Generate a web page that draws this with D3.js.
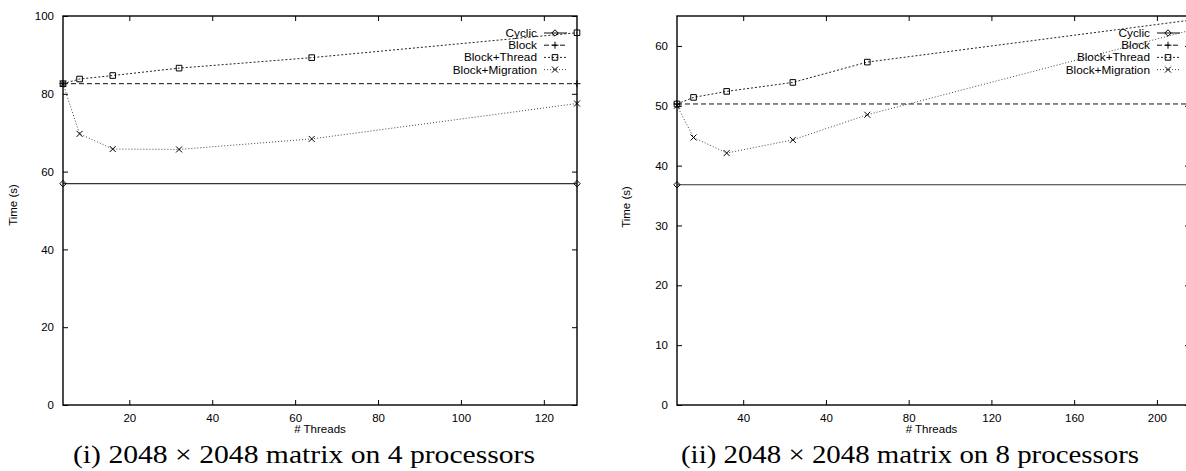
<!DOCTYPE html>
<html>
<head>
<meta charset="utf-8">
<script src="https://cdn.jsdelivr.net/npm/d3@7"></script>
<style>
  html, body { margin: 0; padding: 0; background: #fff; }
  svg { display: block; }
  text { font-family: "Liberation Sans", Arial, Helvetica, sans-serif; fill: #000; }
</style>
</head>
<body>
<svg id="chart" width="1186" height="471"></svg>
<script>
// ---------- DATA ----------
const seriesNames = ["Cyclic", "Block", "Block+Thread", "Block+Migration"];

// Panel (i): 4 processors
const leftThreads = [4, 8, 16, 32, 64, 128];
const leftFlatX = [4, 128];
const leftCyclic = [56.9, 56.9];
const leftBlock = [82.6, 82.6];
const leftBlockThread = [82.6, 83.8, 84.7, 86.6, 89.3, 95.7];
const leftBlockMigration = [82.6, 69.7, 65.8, 65.7, 68.4, 77.5];
const leftYTicks = [0, 20, 40, 60, 80, 100];
const leftXTicks = [20, 40, 60, 80, 100, 120];
const leftXTickLabels = ["20", "40", "60", "80", "100", "120"];
const leftCaption = "(i) 2048 \u00d7 2048 matrix on 4 processors";

// Panel (ii): 8 processors
const rightThreads = [8, 16, 32, 64, 100, 256];
const rightFlatX = [8, 256];
const rightCyclic = [36.8, 36.8];
const rightBlock = [50.3, 50.3];
const rightBlockThread = [50.3, 51.4, 52.4, 53.9, 57.3, 64.3];
const rightBlockMigration = [50.0, 44.7, 42.1, 44.3, 48.5, 62.6];
const rightYTicks = [0, 10, 20, 30, 40, 50, 60];
const rightXTicks = [40, 80, 120, 160, 200, 240];
const rightXTickLabels = ["40", "40", "80", "120", "160", "200"];
const rightCaption = "(ii) 2048 \u00d7 2048 matrix on 8 processors";

const xLabel = "# Threads";
const yLabel = "Time (s)";

// ---------- STYLES ----------
const styles = {
  "Cyclic":          { stroke: "#333", width: 1.2, dash: null,  marker: "diamond" },
  "Block":           { stroke: "#111", width: 1,   dash: "5,3", marker: "plus" },
  "Block+Thread":    { stroke: "#222", width: 1,   dash: "2,2", marker: "square" },
  "Block+Migration": { stroke: "#444", width: 1,   dash: "1,2", marker: "cross" }
};

function markerPath(type) {
  switch (type) {
    case "diamond": return "M0,-3.2L3.2,0L0,3.2L-3.2,0Z";
    case "plus":    return "M-3.5,0H3.5M0,-3.5V3.5";
    case "square":  return "M-2.8,-2.8H2.8V2.8H-2.8Z";
    case "cross":   return "M-3,-3L3,3M-3,3L3,-3";
  }
}

const svg = d3.select("#chart");

function drawPanel(cfg) {
  const x = d3.scaleLinear().domain(cfg.xDomain).range(cfg.xRange);
  const y = d3.scaleLinear().domain(cfg.yDomain).range(cfg.yRange);
  const g = svg.append("g");
  const [x0, x1] = cfg.xRange;
  const [yb, yt] = cfg.yRange;
  const tl = 5;

  // ticks (gnuplot style, inward, mirrored)
  const bottomAxis = d3.axisBottom(x).tickValues(cfg.xTicks)
    .tickFormat((d, i) => cfg.xTickLabels[i]).tickSize(-tl).tickPadding(9);
  const gx = g.append("g").attr("transform", `translate(0,${yb})`).call(bottomAxis);
  const topAxis = d3.axisTop(x).tickValues(cfg.xTicks).tickFormat("").tickSize(-tl);
  const gxt = g.append("g").attr("transform", `translate(0,${yt})`).call(topAxis);
  const leftAxis = d3.axisLeft(y).tickValues(cfg.yTicks).tickSize(-tl).tickPadding(9);
  const gy = g.append("g").attr("transform", `translate(${x0},0)`).call(leftAxis);
  const rightAxis = d3.axisRight(y).tickValues(cfg.yTicks).tickFormat("").tickSize(-tl);
  const gyr = g.append("g").attr("transform", `translate(${x1},0)`).call(rightAxis);
  [gx, gxt, gy, gyr].forEach(a => {
    a.select(".domain").remove();
    a.selectAll(".tick line").attr("stroke", "#000").attr("stroke-width", 1);
    a.selectAll(".tick text").style("font-size", "11.5px").attr("fill", "#000");
  });

  // series
  const series = [
    { name: "Cyclic", xs: cfg.flatX, ys: cfg.cyclic },
    { name: "Block", xs: cfg.flatX, ys: cfg.block },
    { name: "Block+Thread", xs: cfg.threads, ys: cfg.blockThread },
    { name: "Block+Migration", xs: cfg.threads, ys: cfg.blockMigration }
  ];
  const line = d3.line().x(d => x(d[0])).y(d => y(d[1]));
  series.forEach(s => {
    const st = styles[s.name];
    const pts = s.xs.map((v, i) => [v, s.ys[i]]);
    g.append("path").attr("d", line(pts)).attr("fill", "none")
      .attr("stroke", st.stroke).attr("stroke-width", st.width)
      .attr("stroke-dasharray", st.dash);
    g.selectAll(null).data(pts).enter().append("path")
      .attr("d", markerPath(st.marker))
      .attr("transform", d => `translate(${x(d[0])},${y(d[1])})`)
      .attr("fill", "none").attr("stroke", "#000").attr("stroke-width", 1);
  });

  // frame
  g.append("rect").attr("x", x0).attr("y", yt).attr("width", x1 - x0).attr("height", yb - yt)
    .attr("fill", "none").attr("stroke", "#000").attr("stroke-width", 1.4);

  // legend
  const lx = x1 - 40;
  seriesNames.forEach((name, i) => {
    const st = styles[name];
    const ly = 33 + i * 12.2;
    g.append("text").attr("x", lx).attr("y", ly + 4).attr("text-anchor", "end")
      .style("font-size", "11.8px").text(name);
    g.append("line").attr("x1", lx + 7).attr("x2", lx + 30).attr("y1", ly).attr("y2", ly)
      .attr("stroke", st.stroke).attr("stroke-width", st.width).attr("stroke-dasharray", st.dash);
    g.append("path").attr("d", markerPath(st.marker))
      .attr("transform", `translate(${lx + 18},${ly})`)
      .attr("fill", "none").attr("stroke", "#000").attr("stroke-width", 1);
  });

  // axis labels
  g.append("text").attr("x", (x0 + Math.min(x1, 1186)) / 2 + cfg.xLabelShift).attr("y", 433)
    .attr("text-anchor", "middle").style("font-size", "11.5px").text(xLabel);
  g.append("text").attr("transform", `translate(${cfg.yLabelX},${cfg.yLabelY}) rotate(-90)`)
    .attr("text-anchor", "middle").style("font-size", "11.5px").text(yLabel);

  // caption
  g.append("text").attr("x", cfg.captionX).attr("y", 463)
    .attr("textLength", cfg.captionLen).attr("lengthAdjust", "spacingAndGlyphs")
    .style("font-family", "'Liberation Serif', 'DejaVu Serif', serif")
    .style("font-size", "25px").text(cfg.caption);
}

drawPanel({
  xDomain: [4, 128], xRange: [63, 577], yDomain: [0, 100], yRange: [405, 16],
  xTicks: leftXTicks, xTickLabels: leftXTickLabels, yTicks: leftYTicks,
  threads: leftThreads, flatX: leftFlatX, cyclic: leftCyclic, block: leftBlock,
  blockThread: leftBlockThread, blockMigration: leftBlockMigration,
  xLabelShift: 0, yLabelX: 17, yLabelY: 205,
  caption: leftCaption, captionX: 73, captionLen: 462
});

drawPanel({
  xDomain: [8, 256], xRange: [677, 1190], yDomain: [0, 65], yRange: [405, 16],
  xTicks: rightXTicks, xTickLabels: rightXTickLabels, yTicks: rightYTicks,
  threads: rightThreads, flatX: rightFlatX, cyclic: rightCyclic, block: rightBlock,
  blockThread: rightBlockThread, blockMigration: rightBlockMigration,
  xLabelShift: 0, yLabelX: 630, yLabelY: 207,
  caption: rightCaption, captionX: 681, captionLen: 458
});
</script>
</body>
</html>
